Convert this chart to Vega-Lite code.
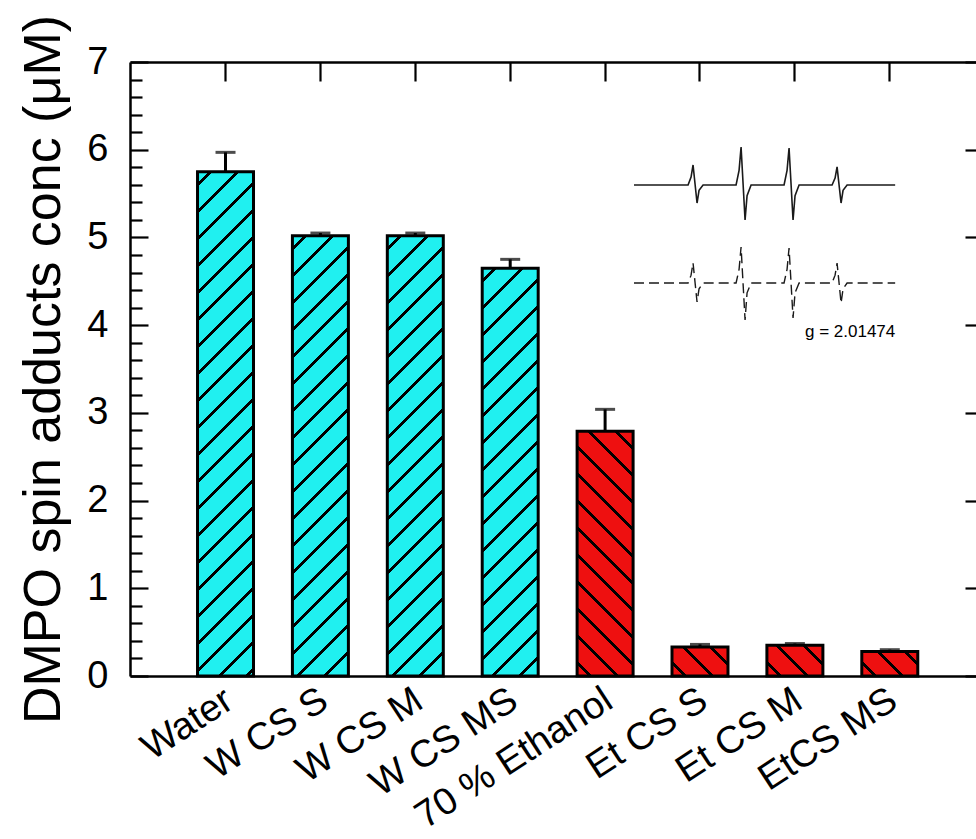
{
  "$schema": "https://vega.github.io/schema/vega-lite/v6.json",
  "width": 846,
  "height": 614,
  "autosize": {"type": "none"},
  "padding": {"left": 130, "top": 62, "right": 0, "bottom": 163},
  "background": "white",
  "config": {
    "view": {"stroke": null},
    "font": "Liberation Sans",
    "axis": {"grid": false, "labelFont": "Liberation Sans", "titleFont": "Liberation Sans", "labelColor": "#000", "titleColor": "#000", "domainColor": "#000", "tickColor": "#000", "domainWidth": 2.5, "tickWidth": 2.2}
  },
  "datasets": {
    "bars": [
      {"sample": "Water", "conc": 5.75, "upper": 5.97},
      {"sample": "W CS S", "conc": 5.02, "upper": 5.05},
      {"sample": "W CS M", "conc": 5.02, "upper": 5.05},
      {"sample": "W CS MS", "conc": 4.65, "upper": 4.75},
      {"sample": "70 % Ethanol", "conc": 2.79, "upper": 3.04},
      {"sample": "Et CS S", "conc": 0.33, "upper": 0.36},
      {"sample": "Et CS M", "conc": 0.35, "upper": 0.37},
      {"sample": "EtCS MS", "conc": 0.28, "upper": 0.30}
    ],
    "spectrum": [
      {"series": "experimental", "field_G": 3459.3, "signal": 0},
      {"series": "experimental", "field_G": 3476.09, "signal": 0},
      {"series": "experimental", "field_G": 3477.02, "signal": 0.8},
      {"series": "experimental", "field_G": 3477.64, "signal": 2.04},
      {"series": "experimental", "field_G": 3478.88, "signal": -1.84},
      {"series": "experimental", "field_G": 3479.5, "signal": -0.55},
      {"series": "experimental", "field_G": 3480.75, "signal": 0},
      {"series": "experimental", "field_G": 3491.0, "signal": 0},
      {"series": "experimental", "field_G": 3491.93, "signal": 1.5},
      {"series": "experimental", "field_G": 3492.55, "signal": 3.88},
      {"series": "experimental", "field_G": 3493.79, "signal": -3.57},
      {"series": "experimental", "field_G": 3494.41, "signal": -1.1},
      {"series": "experimental", "field_G": 3495.66, "signal": 0},
      {"series": "experimental", "field_G": 3505.9, "signal": 0},
      {"series": "experimental", "field_G": 3506.83, "signal": 1.5},
      {"series": "experimental", "field_G": 3507.45, "signal": 3.78},
      {"series": "experimental", "field_G": 3508.69, "signal": -3.57},
      {"series": "experimental", "field_G": 3509.31, "signal": -1.1},
      {"series": "experimental", "field_G": 3510.56, "signal": 0},
      {"series": "experimental", "field_G": 3520.81, "signal": 0},
      {"series": "experimental", "field_G": 3521.74, "signal": 0.7},
      {"series": "experimental", "field_G": 3522.36, "signal": 1.84},
      {"series": "experimental", "field_G": 3523.6, "signal": -1.84},
      {"series": "experimental", "field_G": 3524.22, "signal": -0.55},
      {"series": "experimental", "field_G": 3525.47, "signal": 0},
      {"series": "experimental", "field_G": 3540.4, "signal": 0},
      {"series": "simulated", "field_G": 3459.3, "signal": -10},
      {"series": "simulated", "field_G": 3476.09, "signal": -10},
      {"series": "simulated", "field_G": 3477.02, "signal": -9.2},
      {"series": "simulated", "field_G": 3477.64, "signal": -7.96},
      {"series": "simulated", "field_G": 3478.88, "signal": -11.94},
      {"series": "simulated", "field_G": 3479.5, "signal": -10.6},
      {"series": "simulated", "field_G": 3480.75, "signal": -10},
      {"series": "simulated", "field_G": 3491.0, "signal": -10},
      {"series": "simulated", "field_G": 3491.93, "signal": -8.6},
      {"series": "simulated", "field_G": 3492.55, "signal": -6.33},
      {"series": "simulated", "field_G": 3493.79, "signal": -13.78},
      {"series": "simulated", "field_G": 3494.41, "signal": -11.0},
      {"series": "simulated", "field_G": 3495.66, "signal": -10},
      {"series": "simulated", "field_G": 3505.9, "signal": -10},
      {"series": "simulated", "field_G": 3506.83, "signal": -8.6},
      {"series": "simulated", "field_G": 3507.45, "signal": -6.43},
      {"series": "simulated", "field_G": 3508.69, "signal": -13.57},
      {"series": "simulated", "field_G": 3509.31, "signal": -11.0},
      {"series": "simulated", "field_G": 3510.56, "signal": -10},
      {"series": "simulated", "field_G": 3520.81, "signal": -10},
      {"series": "simulated", "field_G": 3521.74, "signal": -9.2},
      {"series": "simulated", "field_G": 3522.36, "signal": -7.96},
      {"series": "simulated", "field_G": 3523.6, "signal": -12.04},
      {"series": "simulated", "field_G": 3524.22, "signal": -10.6},
      {"series": "simulated", "field_G": 3525.47, "signal": -10},
      {"series": "simulated", "field_G": 3540.4, "signal": -10}
    ],
    "annotation": [
      {"label": "g = 2.01474", "field_G": 3512.4, "signal": -15.5}
    ]
  },
  "resolve": {"scale": {"x": "independent", "y": "independent"}},
  "layer": [
    {
      "data": {"name": "bars"},
      "resolve": {"axis": {"x": "independent", "y": "independent"}},
      "layer": [
        {
          "transform": [{"filter": "datum.sample == 'Water'"}],
          "mark": {"type": "bar", "stroke": "#000", "strokeWidth": 3,
            "fill": {"gradient": "linear", "x1": 0, "y1": 0, "x2": 0.121858, "y2": 1.09749, "stops": [
              {"offset": 0.02034, "color": "#20f0f0"}, {"offset": 0.02034, "color": "#000"}, {"offset": 0.02784, "color": "#000"}, {"offset": 0.02784, "color": "#20f0f0"},
              {"offset": 0.06853, "color": "#20f0f0"}, {"offset": 0.06853, "color": "#000"}, {"offset": 0.07603, "color": "#000"}, {"offset": 0.07603, "color": "#20f0f0"},
              {"offset": 0.11671, "color": "#20f0f0"}, {"offset": 0.11671, "color": "#000"}, {"offset": 0.12421, "color": "#000"}, {"offset": 0.12421, "color": "#20f0f0"},
              {"offset": 0.16489, "color": "#20f0f0"}, {"offset": 0.16489, "color": "#000"}, {"offset": 0.17239, "color": "#000"}, {"offset": 0.17239, "color": "#20f0f0"},
              {"offset": 0.21308, "color": "#20f0f0"}, {"offset": 0.21308, "color": "#000"}, {"offset": 0.22058, "color": "#000"}, {"offset": 0.22058, "color": "#20f0f0"},
              {"offset": 0.26126, "color": "#20f0f0"}, {"offset": 0.26126, "color": "#000"}, {"offset": 0.26876, "color": "#000"}, {"offset": 0.26876, "color": "#20f0f0"},
              {"offset": 0.30944, "color": "#20f0f0"}, {"offset": 0.30944, "color": "#000"}, {"offset": 0.31694, "color": "#000"}, {"offset": 0.31694, "color": "#20f0f0"},
              {"offset": 0.35762, "color": "#20f0f0"}, {"offset": 0.35762, "color": "#000"}, {"offset": 0.36512, "color": "#000"}, {"offset": 0.36512, "color": "#20f0f0"},
              {"offset": 0.40581, "color": "#20f0f0"}, {"offset": 0.40581, "color": "#000"}, {"offset": 0.41331, "color": "#000"}, {"offset": 0.41331, "color": "#20f0f0"},
              {"offset": 0.45399, "color": "#20f0f0"}, {"offset": 0.45399, "color": "#000"}, {"offset": 0.46149, "color": "#000"}, {"offset": 0.46149, "color": "#20f0f0"},
              {"offset": 0.50218, "color": "#20f0f0"}, {"offset": 0.50218, "color": "#000"}, {"offset": 0.50968, "color": "#000"}, {"offset": 0.50968, "color": "#20f0f0"},
              {"offset": 0.55036, "color": "#20f0f0"}, {"offset": 0.55036, "color": "#000"}, {"offset": 0.55786, "color": "#000"}, {"offset": 0.55786, "color": "#20f0f0"},
              {"offset": 0.59854, "color": "#20f0f0"}, {"offset": 0.59854, "color": "#000"}, {"offset": 0.60604, "color": "#000"}, {"offset": 0.60604, "color": "#20f0f0"},
              {"offset": 0.64672, "color": "#20f0f0"}, {"offset": 0.64672, "color": "#000"}, {"offset": 0.65422, "color": "#000"}, {"offset": 0.65422, "color": "#20f0f0"},
              {"offset": 0.69491, "color": "#20f0f0"}, {"offset": 0.69491, "color": "#000"}, {"offset": 0.70241, "color": "#000"}, {"offset": 0.70241, "color": "#20f0f0"},
              {"offset": 0.74309, "color": "#20f0f0"}, {"offset": 0.74309, "color": "#000"}, {"offset": 0.75059, "color": "#000"}, {"offset": 0.75059, "color": "#20f0f0"},
              {"offset": 0.79127, "color": "#20f0f0"}, {"offset": 0.79127, "color": "#000"}, {"offset": 0.79877, "color": "#000"}, {"offset": 0.79877, "color": "#20f0f0"},
              {"offset": 0.83946, "color": "#20f0f0"}, {"offset": 0.83946, "color": "#000"}, {"offset": 0.84696, "color": "#000"}, {"offset": 0.84696, "color": "#20f0f0"},
              {"offset": 0.88764, "color": "#20f0f0"}, {"offset": 0.88764, "color": "#000"}, {"offset": 0.89514, "color": "#000"}, {"offset": 0.89514, "color": "#20f0f0"},
              {"offset": 0.93582, "color": "#20f0f0"}, {"offset": 0.93582, "color": "#000"}, {"offset": 0.94332, "color": "#000"}, {"offset": 0.94332, "color": "#20f0f0"},
              {"offset": 0.98401, "color": "#20f0f0"}, {"offset": 0.98401, "color": "#000"}, {"offset": 0.99151, "color": "#000"}, {"offset": 0.99151, "color": "#20f0f0"}
            ]}},
          "encoding": {
            "x": {"field": "sample", "type": "nominal", "sort": null,
              "scale": {"domain": ["Water", "W CS S", "W CS M", "W CS MS", "70 % Ethanol", "Et CS S", "Et CS M", "EtCS MS"], "paddingInner": 0.41, "paddingOuter": 0.6625, "align": 0.537},
              "axis": {"orient": "bottom", "title": null, "ticks": false, "labelAngle": -33, "labelAlign": "right", "labelBaseline": "alphabetic", "labelFontSize": 38, "labelPadding": 30, "labelOffset": 10, "labelLimit": 0, "labelOverlap": false, "labelBound": false, "labelFlush": false}},
            "y": {"field": "conc", "type": "quantitative",
              "scale": {"domain": [0, 7], "nice": false, "zero": true},
              "axis": {"orient": "left", "values": [0, 1, 2, 3, 4, 5, 6, 7], "tickSize": -18, "labelPadding": 40, "labelFontSize": 38, "labelBaseline": "middle", "title": "DMPO spin adducts conc (μM)", "titleFontSize": 52, "titleFontWeight": "normal", "titlePadding": 16}}
          }
        },
        {
          "transform": [{"filter": "datum.sample == 'W CS S' || datum.sample == 'W CS M'"}],
          "mark": {"type": "bar", "stroke": "#000", "strokeWidth": 3,
            "fill": {"gradient": "linear", "x1": 0, "y1": 0, "x2": 0.141073, "y2": 1.109237, "stops": [
              {"offset": 0.02297, "color": "#20f0f0"}, {"offset": 0.02297, "color": "#000"}, {"offset": 0.03143, "color": "#000"}, {"offset": 0.03143, "color": "#20f0f0"},
              {"offset": 0.07737, "color": "#20f0f0"}, {"offset": 0.07737, "color": "#000"}, {"offset": 0.08583, "color": "#000"}, {"offset": 0.08583, "color": "#20f0f0"},
              {"offset": 0.13177, "color": "#20f0f0"}, {"offset": 0.13177, "color": "#000"}, {"offset": 0.14023, "color": "#000"}, {"offset": 0.14023, "color": "#20f0f0"},
              {"offset": 0.18617, "color": "#20f0f0"}, {"offset": 0.18617, "color": "#000"}, {"offset": 0.19463, "color": "#000"}, {"offset": 0.19463, "color": "#20f0f0"},
              {"offset": 0.24057, "color": "#20f0f0"}, {"offset": 0.24057, "color": "#000"}, {"offset": 0.24903, "color": "#000"}, {"offset": 0.24903, "color": "#20f0f0"},
              {"offset": 0.29497, "color": "#20f0f0"}, {"offset": 0.29497, "color": "#000"}, {"offset": 0.30343, "color": "#000"}, {"offset": 0.30343, "color": "#20f0f0"},
              {"offset": 0.34937, "color": "#20f0f0"}, {"offset": 0.34937, "color": "#000"}, {"offset": 0.35783, "color": "#000"}, {"offset": 0.35783, "color": "#20f0f0"},
              {"offset": 0.40377, "color": "#20f0f0"}, {"offset": 0.40377, "color": "#000"}, {"offset": 0.41223, "color": "#000"}, {"offset": 0.41223, "color": "#20f0f0"},
              {"offset": 0.45817, "color": "#20f0f0"}, {"offset": 0.45817, "color": "#000"}, {"offset": 0.46663, "color": "#000"}, {"offset": 0.46663, "color": "#20f0f0"},
              {"offset": 0.51257, "color": "#20f0f0"}, {"offset": 0.51257, "color": "#000"}, {"offset": 0.52103, "color": "#000"}, {"offset": 0.52103, "color": "#20f0f0"},
              {"offset": 0.56697, "color": "#20f0f0"}, {"offset": 0.56697, "color": "#000"}, {"offset": 0.57543, "color": "#000"}, {"offset": 0.57543, "color": "#20f0f0"},
              {"offset": 0.62137, "color": "#20f0f0"}, {"offset": 0.62137, "color": "#000"}, {"offset": 0.62983, "color": "#000"}, {"offset": 0.62983, "color": "#20f0f0"},
              {"offset": 0.67577, "color": "#20f0f0"}, {"offset": 0.67577, "color": "#000"}, {"offset": 0.68423, "color": "#000"}, {"offset": 0.68423, "color": "#20f0f0"},
              {"offset": 0.73017, "color": "#20f0f0"}, {"offset": 0.73017, "color": "#000"}, {"offset": 0.73863, "color": "#000"}, {"offset": 0.73863, "color": "#20f0f0"},
              {"offset": 0.78457, "color": "#20f0f0"}, {"offset": 0.78457, "color": "#000"}, {"offset": 0.79303, "color": "#000"}, {"offset": 0.79303, "color": "#20f0f0"},
              {"offset": 0.83897, "color": "#20f0f0"}, {"offset": 0.83897, "color": "#000"}, {"offset": 0.84743, "color": "#000"}, {"offset": 0.84743, "color": "#20f0f0"},
              {"offset": 0.89337, "color": "#20f0f0"}, {"offset": 0.89337, "color": "#000"}, {"offset": 0.90183, "color": "#000"}, {"offset": 0.90183, "color": "#20f0f0"},
              {"offset": 0.94777, "color": "#20f0f0"}, {"offset": 0.94777, "color": "#000"}, {"offset": 0.95623, "color": "#000"}, {"offset": 0.95623, "color": "#20f0f0"}
            ]}},
          "encoding": {
            "x": {"field": "sample", "type": "nominal", "sort": null,
              "scale": {"domain": ["Water", "W CS S", "W CS M", "W CS MS", "70 % Ethanol", "Et CS S", "Et CS M", "EtCS MS"], "paddingInner": 0.41, "paddingOuter": 0.6625, "align": 0.537},
              "axis": {"orient": "top", "title": null, "labels": false, "ticks": true, "tickSize": -19}},
            "y": {"field": "conc", "type": "quantitative",
              "scale": {"domain": [0, 7], "nice": false, "zero": true},
              "axis": {"orient": "left", "values": [0.2, 0.4, 0.6, 0.8, 1.2, 1.4, 1.6, 1.8, 2.2, 2.4, 2.6, 2.8, 3.2, 3.4, 3.6, 3.8, 4.2, 4.4, 4.6, 4.8, 5.2, 5.4, 5.6, 5.8, 6.2, 6.4, 6.6, 6.8], "tickSize": -12, "labels": false, "domain": false, "title": null}}
          }
        },
        {
          "transform": [{"filter": "datum.sample == 'W CS MS'"}],
          "mark": {"type": "bar", "stroke": "#000", "strokeWidth": 3,
            "fill": {"gradient": "linear", "x1": 0, "y1": 0, "x2": 0.15326, "y2": 1.116245, "stops": [
              {"offset": 0.02458, "color": "#20f0f0"}, {"offset": 0.02458, "color": "#000"}, {"offset": 0.03363, "color": "#000"}, {"offset": 0.03363, "color": "#20f0f0"},
              {"offset": 0.08278, "color": "#20f0f0"}, {"offset": 0.08278, "color": "#000"}, {"offset": 0.09184, "color": "#000"}, {"offset": 0.09184, "color": "#20f0f0"},
              {"offset": 0.14099, "color": "#20f0f0"}, {"offset": 0.14099, "color": "#000"}, {"offset": 0.15004, "color": "#000"}, {"offset": 0.15004, "color": "#20f0f0"},
              {"offset": 0.19919, "color": "#20f0f0"}, {"offset": 0.19919, "color": "#000"}, {"offset": 0.20825, "color": "#000"}, {"offset": 0.20825, "color": "#20f0f0"},
              {"offset": 0.2574, "color": "#20f0f0"}, {"offset": 0.2574, "color": "#000"}, {"offset": 0.26645, "color": "#000"}, {"offset": 0.26645, "color": "#20f0f0"},
              {"offset": 0.31561, "color": "#20f0f0"}, {"offset": 0.31561, "color": "#000"}, {"offset": 0.32466, "color": "#000"}, {"offset": 0.32466, "color": "#20f0f0"},
              {"offset": 0.37381, "color": "#20f0f0"}, {"offset": 0.37381, "color": "#000"}, {"offset": 0.38287, "color": "#000"}, {"offset": 0.38287, "color": "#20f0f0"},
              {"offset": 0.43202, "color": "#20f0f0"}, {"offset": 0.43202, "color": "#000"}, {"offset": 0.44107, "color": "#000"}, {"offset": 0.44107, "color": "#20f0f0"},
              {"offset": 0.49022, "color": "#20f0f0"}, {"offset": 0.49022, "color": "#000"}, {"offset": 0.49928, "color": "#000"}, {"offset": 0.49928, "color": "#20f0f0"},
              {"offset": 0.54843, "color": "#20f0f0"}, {"offset": 0.54843, "color": "#000"}, {"offset": 0.55748, "color": "#000"}, {"offset": 0.55748, "color": "#20f0f0"},
              {"offset": 0.60664, "color": "#20f0f0"}, {"offset": 0.60664, "color": "#000"}, {"offset": 0.61569, "color": "#000"}, {"offset": 0.61569, "color": "#20f0f0"},
              {"offset": 0.66484, "color": "#20f0f0"}, {"offset": 0.66484, "color": "#000"}, {"offset": 0.6739, "color": "#000"}, {"offset": 0.6739, "color": "#20f0f0"},
              {"offset": 0.72305, "color": "#20f0f0"}, {"offset": 0.72305, "color": "#000"}, {"offset": 0.7321, "color": "#000"}, {"offset": 0.7321, "color": "#20f0f0"},
              {"offset": 0.78125, "color": "#20f0f0"}, {"offset": 0.78125, "color": "#000"}, {"offset": 0.79031, "color": "#000"}, {"offset": 0.79031, "color": "#20f0f0"},
              {"offset": 0.83946, "color": "#20f0f0"}, {"offset": 0.83946, "color": "#000"}, {"offset": 0.84851, "color": "#000"}, {"offset": 0.84851, "color": "#20f0f0"},
              {"offset": 0.89767, "color": "#20f0f0"}, {"offset": 0.89767, "color": "#000"}, {"offset": 0.90672, "color": "#000"}, {"offset": 0.90672, "color": "#20f0f0"},
              {"offset": 0.95587, "color": "#20f0f0"}, {"offset": 0.95587, "color": "#000"}, {"offset": 0.96493, "color": "#000"}, {"offset": 0.96493, "color": "#20f0f0"}
            ]}},
          "encoding": {
            "x": {"field": "sample", "type": "nominal", "sort": null,
              "scale": {"domain": ["Water", "W CS S", "W CS M", "W CS MS", "70 % Ethanol", "Et CS S", "Et CS M", "EtCS MS"], "paddingInner": 0.41, "paddingOuter": 0.6625, "align": 0.537},
              "axis": null},
            "y": {"field": "conc", "type": "quantitative",
              "scale": {"domain": [0, 7], "nice": false, "zero": true},
              "axis": {"orient": "right", "values": [0, 1, 2, 3, 4, 5, 6, 7], "tickSize": -11, "labels": false, "domain": false, "title": null}}
          }
        },
        {
          "transform": [{"filter": "datum.sample == '70 % Ethanol'"}],
          "mark": {"type": "bar", "stroke": "#000", "strokeWidth": 3,
            "fill": {"gradient": "linear", "x1": 0, "y1": 1, "x2": 0.267206, "y2": -0.16769, "stops": [
              {"offset": 0.03791, "color": "#ee1010"}, {"offset": 0.03791, "color": "#000"}, {"offset": 0.05188, "color": "#000"}, {"offset": 0.05188, "color": "#ee1010"},
              {"offset": 0.12769, "color": "#ee1010"}, {"offset": 0.12769, "color": "#000"}, {"offset": 0.14166, "color": "#000"}, {"offset": 0.14166, "color": "#ee1010"},
              {"offset": 0.21748, "color": "#ee1010"}, {"offset": 0.21748, "color": "#000"}, {"offset": 0.23144, "color": "#000"}, {"offset": 0.23144, "color": "#ee1010"},
              {"offset": 0.30726, "color": "#ee1010"}, {"offset": 0.30726, "color": "#000"}, {"offset": 0.32123, "color": "#000"}, {"offset": 0.32123, "color": "#ee1010"},
              {"offset": 0.39705, "color": "#ee1010"}, {"offset": 0.39705, "color": "#000"}, {"offset": 0.41101, "color": "#000"}, {"offset": 0.41101, "color": "#ee1010"},
              {"offset": 0.48683, "color": "#ee1010"}, {"offset": 0.48683, "color": "#000"}, {"offset": 0.5008, "color": "#000"}, {"offset": 0.5008, "color": "#ee1010"},
              {"offset": 0.57661, "color": "#ee1010"}, {"offset": 0.57661, "color": "#000"}, {"offset": 0.59058, "color": "#000"}, {"offset": 0.59058, "color": "#ee1010"},
              {"offset": 0.6664, "color": "#ee1010"}, {"offset": 0.6664, "color": "#000"}, {"offset": 0.68036, "color": "#000"}, {"offset": 0.68036, "color": "#ee1010"},
              {"offset": 0.75618, "color": "#ee1010"}, {"offset": 0.75618, "color": "#000"}, {"offset": 0.77015, "color": "#000"}, {"offset": 0.77015, "color": "#ee1010"},
              {"offset": 0.84597, "color": "#ee1010"}, {"offset": 0.84597, "color": "#000"}, {"offset": 0.85993, "color": "#000"}, {"offset": 0.85993, "color": "#ee1010"},
              {"offset": 0.93575, "color": "#ee1010"}, {"offset": 0.93575, "color": "#000"}, {"offset": 0.94972, "color": "#000"}, {"offset": 0.94972, "color": "#ee1010"}
            ]}},
          "encoding": {
            "x": {"field": "sample", "type": "nominal", "sort": null,
              "scale": {"domain": ["Water", "W CS S", "W CS M", "W CS MS", "70 % Ethanol", "Et CS S", "Et CS M", "EtCS MS"], "paddingInner": 0.41, "paddingOuter": 0.6625, "align": 0.537},
              "axis": null},
            "y": {"field": "conc", "type": "quantitative", "scale": {"domain": [0, 7], "nice": false, "zero": true}, "axis": null}
          }
        },
        {
          "transform": [{"filter": "datum.sample == 'Et CS S'"}],
          "mark": {"type": "bar", "stroke": "#000", "strokeWidth": 3,
            "fill": {"gradient": "linear", "x1": 0, "y1": 1, "x2": 1.19705, "y2": 0.381167, "stops": [
              {"offset": 0.1342, "color": "#ee1010"}, {"offset": 0.1342, "color": "#000"}, {"offset": 0.18364, "color": "#000"}, {"offset": 0.18364, "color": "#ee1010"},
              {"offset": 0.45203, "color": "#ee1010"}, {"offset": 0.45203, "color": "#000"}, {"offset": 0.50147, "color": "#000"}, {"offset": 0.50147, "color": "#ee1010"},
              {"offset": 0.76986, "color": "#ee1010"}, {"offset": 0.76986, "color": "#000"}, {"offset": 0.8193, "color": "#000"}, {"offset": 0.8193, "color": "#ee1010"}
            ]}},
          "encoding": {
            "x": {"field": "sample", "type": "nominal", "sort": null,
              "scale": {"domain": ["Water", "W CS S", "W CS M", "W CS MS", "70 % Ethanol", "Et CS S", "Et CS M", "EtCS MS"], "paddingInner": 0.41, "paddingOuter": 0.6625, "align": 0.537},
              "axis": null},
            "y": {"field": "conc", "type": "quantitative", "scale": {"domain": [0, 7], "nice": false, "zero": true}, "axis": null}
          }
        },
        {
          "transform": [{"filter": "datum.sample == 'Et CS M'"}],
          "mark": {"type": "bar", "stroke": "#000", "strokeWidth": 3,
            "fill": {"gradient": "linear", "x1": 0, "y1": 1, "x2": 1.19044, "y2": 0.347386, "stops": [
              {"offset": 0.13149, "color": "#ee1010"}, {"offset": 0.13149, "color": "#000"}, {"offset": 0.17993, "color": "#000"}, {"offset": 0.17993, "color": "#ee1010"},
              {"offset": 0.44291, "color": "#ee1010"}, {"offset": 0.44291, "color": "#000"}, {"offset": 0.49135, "color": "#000"}, {"offset": 0.49135, "color": "#ee1010"},
              {"offset": 0.75433, "color": "#ee1010"}, {"offset": 0.75433, "color": "#000"}, {"offset": 0.80277, "color": "#000"}, {"offset": 0.80277, "color": "#ee1010"}
            ]}},
          "encoding": {
            "x": {"field": "sample", "type": "nominal", "sort": null,
              "scale": {"domain": ["Water", "W CS S", "W CS M", "W CS MS", "70 % Ethanol", "Et CS S", "Et CS M", "EtCS MS"], "paddingInner": 0.41, "paddingOuter": 0.6625, "align": 0.537},
              "axis": null},
            "y": {"field": "conc", "type": "quantitative", "scale": {"domain": [0, 7], "nice": false, "zero": true}, "axis": null}
          }
        },
        {
          "transform": [{"filter": "datum.sample == 'EtCS MS'"}],
          "mark": {"type": "bar", "stroke": "#000", "strokeWidth": 3,
            "fill": {"gradient": "linear", "x1": 0, "y1": 1, "x2": 1.2065, "y2": 0.470862, "stops": [
              {"offset": 0.14151, "color": "#ee1010"}, {"offset": 0.14151, "color": "#000"}, {"offset": 0.19365, "color": "#000"}, {"offset": 0.19365, "color": "#ee1010"},
              {"offset": 0.47667, "color": "#ee1010"}, {"offset": 0.47667, "color": "#000"}, {"offset": 0.52881, "color": "#000"}, {"offset": 0.52881, "color": "#ee1010"},
              {"offset": 0.81183, "color": "#ee1010"}, {"offset": 0.81183, "color": "#000"}, {"offset": 0.86397, "color": "#000"}, {"offset": 0.86397, "color": "#ee1010"}
            ]}},
          "encoding": {
            "x": {"field": "sample", "type": "nominal", "sort": null,
              "scale": {"domain": ["Water", "W CS S", "W CS M", "W CS MS", "70 % Ethanol", "Et CS S", "Et CS M", "EtCS MS"], "paddingInner": 0.41, "paddingOuter": 0.6625, "align": 0.537},
              "axis": null},
            "y": {"field": "conc", "type": "quantitative", "scale": {"domain": [0, 7], "nice": false, "zero": true}, "axis": null}
          }
        },
        {
          "mark": {"type": "rule", "color": "#000", "strokeWidth": 3},
          "encoding": {
            "x": {"field": "sample", "type": "nominal", "sort": null,
              "scale": {"domain": ["Water", "W CS S", "W CS M", "W CS MS", "70 % Ethanol", "Et CS S", "Et CS M", "EtCS MS"], "paddingInner": 0.41, "paddingOuter": 0.6625, "align": 0.537},
              "axis": null},
            "y": {"field": "conc", "type": "quantitative", "scale": {"domain": [0, 7], "nice": false, "zero": true}, "axis": null},
            "y2": {"field": "upper"}
          }
        },
        {
          "mark": {"type": "tick", "color": "#000", "size": 20, "thickness": 3, "orient": "horizontal"},
          "encoding": {
            "x": {"field": "sample", "type": "nominal", "sort": null,
              "scale": {"domain": ["Water", "W CS S", "W CS M", "W CS MS", "70 % Ethanol", "Et CS S", "Et CS M", "EtCS MS"], "paddingInner": 0.41, "paddingOuter": 0.6625, "align": 0.537},
              "axis": null},
            "y": {"field": "upper", "type": "quantitative", "scale": {"domain": [0, 7], "nice": false, "zero": true}, "axis": null}
          }
        }
      ]
    },
    {
      "layer": [
        {
          "data": {"name": "spectrum"},
          "transform": [{"filter": "datum.series == 'experimental'"}],
          "mark": {"type": "line", "color": "#1a1a1a", "strokeWidth": 1.6},
          "encoding": {
            "x": {"field": "field_G", "type": "quantitative", "scale": {"domain": [3302.8, 3565.5], "nice": false, "zero": false}, "axis": null},
            "y": {"field": "signal", "type": "quantitative", "scale": {"domain": [-50.1, 12.55], "nice": false, "zero": false}, "axis": null}
          }
        },
        {
          "data": {"name": "spectrum"},
          "transform": [{"filter": "datum.series == 'simulated'"}],
          "mark": {"type": "line", "color": "#1a1a1a", "strokeWidth": 1.4, "strokeDash": [10, 5]},
          "encoding": {
            "x": {"field": "field_G", "type": "quantitative", "scale": {"domain": [3302.8, 3565.5], "nice": false, "zero": false}, "axis": null},
            "y": {"field": "signal", "type": "quantitative", "scale": {"domain": [-50.1, 12.55], "nice": false, "zero": false}, "axis": null}
          }
        },
        {
          "data": {"name": "annotation"},
          "mark": {"type": "text", "align": "left", "baseline": "alphabetic", "fontSize": 17, "font": "Liberation Sans", "color": "#000"},
          "encoding": {
            "x": {"field": "field_G", "type": "quantitative", "scale": {"domain": [3302.8, 3565.5], "nice": false, "zero": false}, "axis": null},
            "y": {"field": "signal", "type": "quantitative", "scale": {"domain": [-50.1, 12.55], "nice": false, "zero": false}, "axis": null},
            "text": {"field": "label"}
          }
        }
      ]
    }
  ]
}
